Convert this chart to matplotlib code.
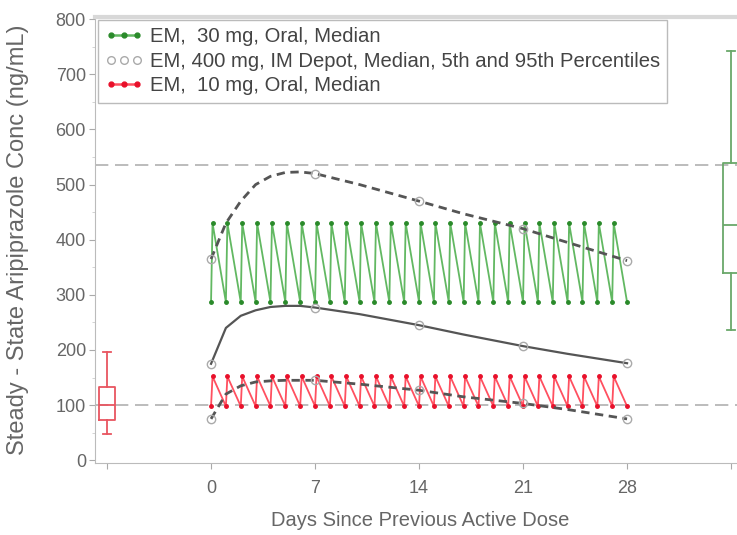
import matplotlib
matplotlib.use("Agg")
import matplotlib.pyplot as plt
from matplotlib.lines import Line2D

plt.rcParams['font.family'] = ['Liberation Sans', 'DejaVu Sans']

# ---- data ----
days_ticks = [0, 7, 14, 21, 28]
y_ticks = [0, 100, 200, 300, 400, 500, 600, 700, 800]

# oral daily dosing sawtooth (trough at each dose, peak shortly after)
saw_t = [0, 0.1, 1, 1.1, 2, 2.1, 3, 3.1, 4, 4.1, 5, 5.1, 6, 6.1, 7, 7.1, 8, 8.1, 9, 9.1,
         10, 10.1, 11, 11.1, 12, 12.1, 13, 13.1, 14, 14.1, 15, 15.1, 16, 16.1, 17, 17.1,
         18, 18.1, 19, 19.1, 20, 20.1, 21, 21.1, 22, 22.1, 23, 23.1, 24, 24.1, 25, 25.1,
         26, 26.1, 27, 27.1, 28]
green_trough, green_peak = 287, 430
red_trough, red_peak = 98, 152
green_30mg = [green_trough if i % 2 == 0 else green_peak for i in range(len(saw_t))]
red_10mg = [red_trough if i % 2 == 0 else red_peak for i in range(len(saw_t))]

# IM depot 400 mg curves
depot_t = [0, 1, 2, 3, 4, 5, 6, 7, 10, 14, 17, 21, 24, 28]
depot_median = [175, 240, 262, 272, 278, 280, 280, 277, 265, 245, 228, 207, 193, 176]
depot_p95 = [365, 430, 470, 500, 515, 522, 523, 520, 500, 470, 447, 420, 395, 362]
depot_p5 = [75, 120, 135, 142, 144, 145, 145, 145, 138, 127, 115, 103, 92, 75]
mark_t = [0, 7, 14, 21, 28]
mark_median = [175, 277, 245, 207, 176]
mark_p95 = [365, 520, 470, 420, 362]
mark_p5 = [75, 145, 127, 103, 75]

# box plots (10 mg left, 30 mg right)
box_pos = [-7, 35]
box_stats_10 = dict(whislo=48, q1=73, med=100, q3=133, whishi=197)
box_stats_30 = dict(whislo=236, q1=339, med=426, q3=539, whishi=742)

ref_lines = [100, 535]

GREEN_L = '#62b862'
GREEN_M = '#2a8a2a'
RED_L = '#ff5060'
RED_M = '#e8102a'
GRAY = '#555555'
TXT = '#666666'

fig = plt.figure(figsize=(7.37, 5.35), dpi=100)
ax = fig.add_axes([95/737, (535-463)/535, (737-95)/737, (463-17)/535])
ax.set_xlim(-7.81, 35.4)
ax.set_ylim(-5, 804)

for r in ref_lines:
    ax.axhline(r, color='#b0b0b0', lw=1.2, ls=(0, (8, 4)), zorder=1)

ax.plot(saw_t, green_30mg, color=GREEN_L, lw=1.3, marker='o', ms=2.5,
        mfc=GREEN_M, mec=GREEN_M, zorder=2)
ax.plot(saw_t, red_10mg, color=RED_L, lw=1.3, marker='o', ms=2.5,
        mfc=RED_M, mec=RED_M, zorder=2)

ax.plot(depot_t, depot_median, color=GRAY, lw=1.6, zorder=3)
ax.plot(depot_t, depot_p95, color=GRAY, lw=2, ls=(0, (3, 2)), zorder=3)
ax.plot(depot_t, depot_p5, color=GRAY, lw=2, ls=(0, (3, 2)), zorder=3)
for ys in (mark_median, mark_p95, mark_p5):
    ax.plot(mark_t, ys, ls='none', marker='o', ms=6, mfc='none', mec='#aaaaaa', mew=1, zorder=4)

for pos, st, col in ((box_pos[0], box_stats_10, '#e85560'), (box_pos[1], box_stats_30, '#6aa86a')):
    props = dict(color=col, lw=1.3)
    ax.bxp([dict(st, fliers=[])], positions=[pos], widths=1.1, showfliers=False,
           boxprops=props, whiskerprops=props, capprops=props, medianprops=props,
           manage_ticks=False)

ax.set_xticks([box_pos[0]] + days_ticks + [box_pos[1]])
ax.set_xticklabels([''] + [str(d) for d in days_ticks] + [''])
ax.set_yticks(y_ticks)
ax.set_yticks(range(0, 801, 50), minor=True)
ax.tick_params(axis='both', colors='#aaaaaa', labelcolor=TXT, labelsize=13, length=4)
ax.tick_params(axis='y', which='minor', colors='#cccccc', length=2.5)
ax.tick_params(axis='y', pad=2.5)
ax.tick_params(axis='x', pad=8)

for s in ax.spines.values():
    s.set_color('#bbbbbb')
ax.spines['top'].set_linewidth(3)
ax.spines['top'].set_color('#d8d8d8')
ax.spines['right'].set_visible(False)

ax.set_xlabel('Days Since Previous Active Dose', color=TXT, fontsize=14.5)
ax.set_ylabel('Steady - State Aripiprazole Conc (ng/mL)', color=TXT, fontsize=17)
ax.xaxis.set_label_coords((420 - 95) / 642, (463 - 511) / 446)
ax.yaxis.set_label_coords((29 - 95) / 642, (463 - 240) / 446)

handles = [
    Line2D([], [], color=GREEN_L, lw=1.8, marker='o', ms=3.5, mfc=GREEN_M, mec=GREEN_M),
    Line2D([], [], ls='none', marker='o', ms=5.5, mfc='none', mec='#aaaaaa'),
    Line2D([], [], color=RED_L, lw=1.8, marker='o', ms=3.5, mfc=RED_M, mec=RED_M),
]
labels = ['EM,  30 mg, Oral, Median',
          'EM, 400 mg, IM Depot, Median, 5th and 95th Percentiles',
          'EM,  10 mg, Oral, Median']
leg = ax.legend(handles, labels, loc='upper left', numpoints=3, fontsize=14.6,
                frameon=True, fancybox=False, edgecolor='#aaaaaa', handlelength=1.85,
                handletextpad=0.35, borderaxespad=0.15, labelspacing=0.28, borderpad=0.35,
                labelcolor='#444444')
leg.get_frame().set_linewidth(1)

fig.savefig('out.png', dpi=100)
